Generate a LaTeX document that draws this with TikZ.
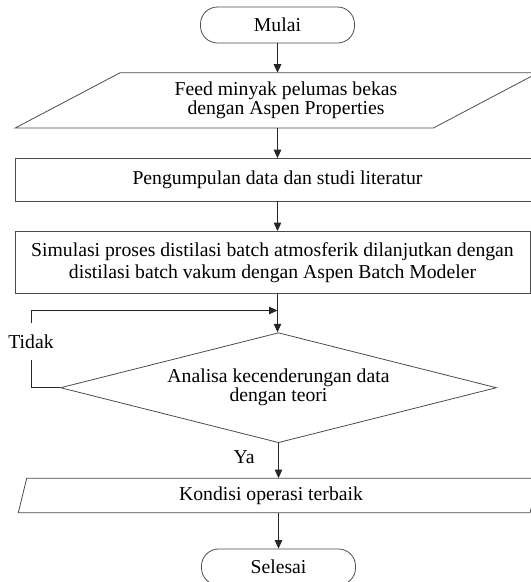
\documentclass[tikz,border=0pt]{standalone}
\usepackage{fontspec}
\setmainfont{Liberation Serif}
\usetikzlibrary{arrows.meta,shapes.geometric}

\begin{document}
\begin{tikzpicture}[x=1pt,y=-1pt]
\tikzset{
  teks/.style={font=\fontsize{19.7pt}{22pt}\selectfont,inner sep=0pt,align=center},
  terminal/.style={teks,draw=black!70,line width=0.8pt,rounded corners=17pt,minimum width=154pt,minimum height=36pt},
  proses/.style={teks,draw=black!70,line width=0.8pt},
  keputusan/.style={teks,diamond,aspect=3.96,draw=black!70,line width=0.8pt,minimum width=436pt,minimum height=110pt},
  garis/.style={draw=black!70,line width=0.8pt},
  panah/.style={-{Triangle[length=8.5pt,width=7.5pt]},line width=1pt,black!85},
  hubung/.style={line width=1pt,black!85}
}
\clip (0,0) rectangle (531,582);
\node[terminal] (mulai) at (277.5,25) {Mulai};
\node[teks,minimum height=55pt] (feed) at (286,100.4) {Feed minyak pelumas bekas\\[-3.4pt]dengan Aspen Properties};
\node[proses,minimum width=525pt,minimum height=42.4pt] (kumpul) at (277.5,179.8) {Pengumpulan data dan studi literatur};
\node[proses,minimum width=515pt,minimum height=61.5pt] (simulasi) at (272.5,262.2) {Simulasi proses distilasi batch atmosferik dilanjutkan dengan\\distilasi batch vakum dengan Aspen Batch Modeler};
\node[keputusan] (analisa) at (278.5,387.7) {\raisebox{-3pt}{Analisa kecenderungan data}\\[-3pt]\raisebox{-3pt}{dengan teori}};
\node[teks,minimum height=34.4pt] (kondisi) at (271,495.5) {Kondisi operasi terbaik};
\node[terminal] (selesai) at (278.5,567) {Selesai};
\node[teks,minimum height=36pt] (tidak) at (31,341.5) {Tidak};
\node[teks] (ya) at (244,457) {Ya};
\coordinate (balik) at (277.5,310.5);
\draw[garis] (15.2,128) -- (120,72.8) -- (538,72.8) -- (433.4,128) -- cycle;
\draw[garis] (18.3,512.7) -- (26.7,478.3) -- (539,478.3) -- (530,512.7) -- cycle;
\draw[panah] (mulai) -- (mulai |- feed.north);
\draw[panah] (mulai |- feed.south) -- (kumpul);
\draw[panah] (kumpul) -- (kumpul |- simulasi.north);
\draw[panah] (kumpul |- simulasi.south) -- (kumpul |- analisa.north);
\draw[hubung] (analisa.west) -| (tidak.south);
\draw[panah] (tidak.north) |- (balik);
\draw[panah] (analisa) -- (analisa |- kondisi.north);
\draw[panah] (analisa |- kondisi.south) -- (selesai);
\end{tikzpicture}
\end{document}
